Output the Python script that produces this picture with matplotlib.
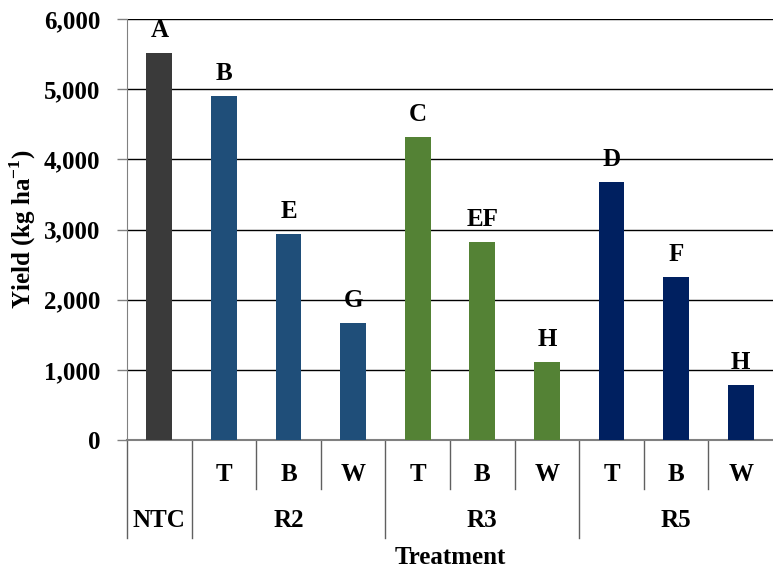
import matplotlib
matplotlib.use("Agg")
import matplotlib.pyplot as plt
from matplotlib.ticker import FuncFormatter

# data
groups = ["NTC", "R2", "R3", "R5"]
group_sizes = [1, 3, 3, 3]
sub_labels = ["", "T", "B", "W", "T", "B", "W", "T", "B", "W"]
yields = [5520, 4900, 2940, 1670, 4320, 2820, 1110, 3680, 2320, 780]
letters = ["A", "B", "E", "G", "C", "EF", "H", "D", "F", "H"]
group_colors = ["#3a3a3a", "#1f4e79", "#548235", "#002060"]

plt.rcParams['font.family'] = ['Liberation Serif', 'DejaVu Serif']
plt.rcParams['font.weight'] = 'bold'
plt.rcParams['mathtext.fontset'] = 'custom'
plt.rcParams['mathtext.rm'] = 'Liberation Serif:bold'
plt.rcParams['mathtext.bf'] = 'Liberation Serif:bold'

FS = 18

fig = plt.figure(figsize=(7.73, 5.71), dpi=100)
ax = fig.add_axes([0.1643, 0.2294, 0.8357, 0.7373])

colors = []
for c, n in zip(group_colors, group_sizes):
    colors += [c] * n

x = list(range(len(yields)))
ax.set_axisbelow(True)
ax.bar(x, yields, width=0.4, color=colors, zorder=3)

for xi, v, lab in zip(x, yields, letters):
    ax.annotate(lab, (xi, v), xytext=(0, 8), textcoords='offset points',
                ha='center', va='bottom', fontsize=FS, fontweight='bold')

ax.set_xlim(-0.5, len(yields) - 0.5)
ax.set_ylim(0, 6000)
ax.set_yticks(range(0, 6001, 1000))
ax.yaxis.set_major_formatter(FuncFormatter(lambda v, p: f"{int(v):,}"))
ax.tick_params(axis='y', labelsize=FS, length=7, width=1, color='#808080', pad=12)
ax.set_xticks([])
ax.yaxis.grid(True, color='black', linewidth=1)

for s in ['top', 'right']:
    ax.spines[s].set_visible(False)
ax.spines['left'].set_color('#808080')
ax.spines['bottom'].set_color('#808080')
ax.spines['bottom'].set_linewidth(1.5)

ax.set_ylabel("Yield (kg ha$^{-1}$)", fontsize=FS, fontweight='bold')
ax.yaxis.set_label_coords(-0.138, 0.5)

# multi-level category axis
tr = ax.get_xaxis_transform()
inner_y = -0.116
outer_y = -0.232
pos = 0
boundaries = [-0.5]
for n in group_sizes:
    pos += n
    boundaries.append(pos - 0.5)
for b in boundaries[:-1]:
    ax.plot([b, b], [0, outer_y], transform=tr, color='#606060', lw=1, clip_on=False)
for i in range(len(yields) - 1):
    b = i + 0.5
    if b not in boundaries:
        ax.plot([b, b], [0, inner_y], transform=tr, color='#606060', lw=1, clip_on=False)

for xi, lab in zip(x, sub_labels):
    if lab:
        ax.text(xi, -0.081, lab, transform=tr, ha='center', va='center',
                fontsize=FS, fontweight='bold')

start = 0
for g, n in zip(groups, group_sizes):
    center = start + (n - 1) / 2
    ax.text(center, -0.192, g, transform=tr, ha='center', va='center',
            fontsize=FS, fontweight='bold')
    start += n

ax.text(0.5, -0.278, "Treatment", transform=ax.transAxes, ha='center', va='center',
        fontsize=FS, fontweight='bold')

fig.savefig("out.png", dpi=100)
